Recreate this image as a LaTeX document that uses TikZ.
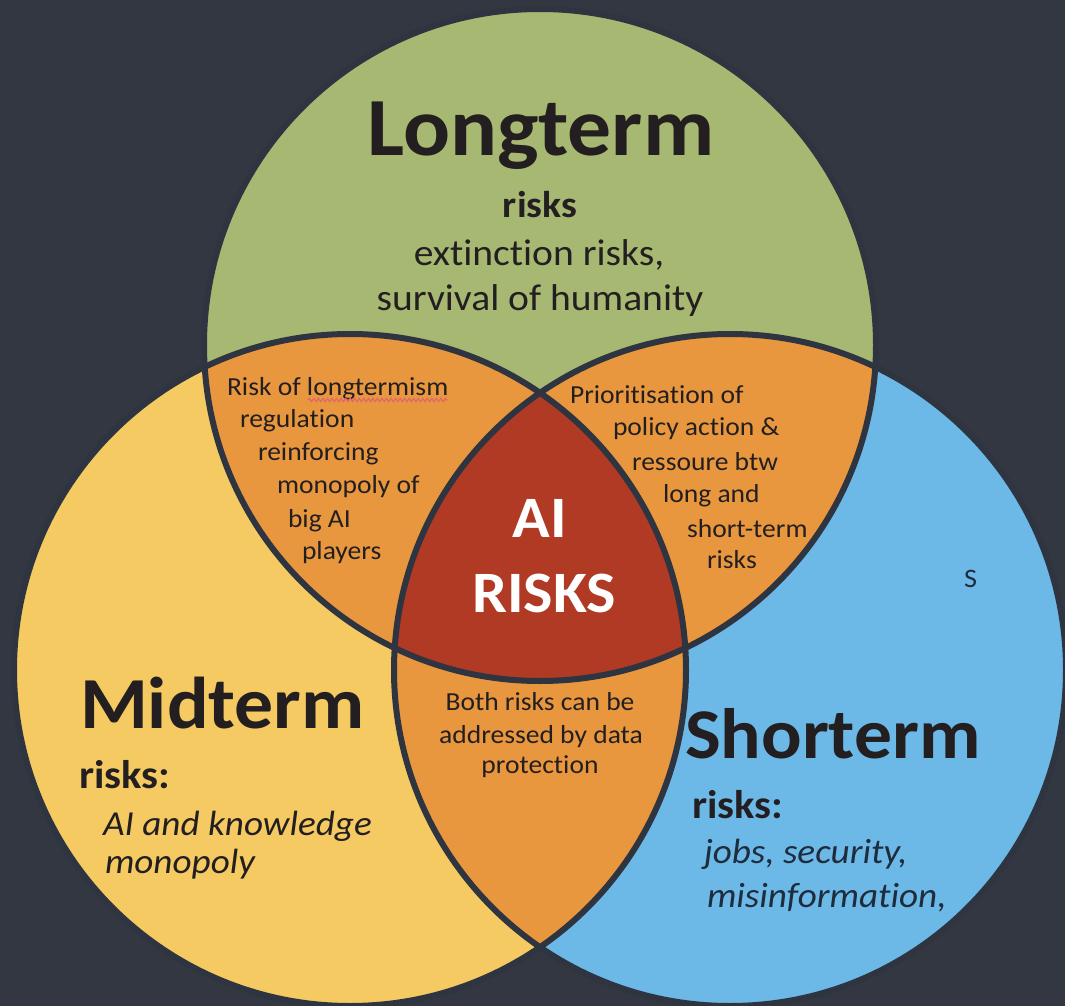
\documentclass[tikz,border=0pt]{standalone}
\usepackage{fontspec}
\setmainfont[FakeStretch=1.06, Ligatures={NoCommon}]{Carlito}
\usetikzlibrary{decorations.pathmorphing}
\definecolor{bg}{HTML}{323741}
\definecolor{lgreen}{HTML}{A7B872}
\definecolor{lyellow}{HTML}{F5CA63}
\definecolor{lblue}{HTML}{6CB9E8}
\definecolor{lorange}{HTML}{E8973E}
\definecolor{lred}{HTML}{B03A24}
\definecolor{rim}{HTML}{2F3540}
\definecolor{ink}{HTML}{231F20}
\definecolor{navy}{HTML}{1E2C3C}
\definecolor{spell}{HTML}{E06A6A}
\begin{document}
\begin{tikzpicture}[x=0.75pt,y=-0.75pt,
  every node/.style={inner sep=0pt, outer sep=0pt},
  bigtitle/.style={text=ink, font=\fontsize{62}{62}\selectfont\bfseries},
  sidetitle/.style={text=ink, font=\fontsize{53.5}{53.5}\selectfont\bfseries},
  subbold/.style={text=ink, font=\fontsize{30}{30}\selectfont\bfseries},
  greentxt/.style={text=ink, font=\fontsize{28}{28}\selectfont},
  itxt/.style={text=ink, font=\fontsize{26.3}{26.3}\selectfont\itshape},
  smalltxt/.style={text=ink, font=\fontsize{19.5}{19.5}\selectfont},
  centertxt/.style={text=white, font=\fontsize{44}{44}\selectfont\bfseries},
  rimline/.style={draw=rim, line width=4.5pt}
]
\useasboundingbox (0,0) rectangle (1065,1006);
\fill[bg] (0,0) rectangle (1065,1006);
\clip (0,0) rectangle (1065,1006);
\def\CG{(540,345) circle[radius=336]}
\def\CY{(350,670) circle[radius=336]}
\def\CB{(730,670) circle[radius=336]}
% base fills
\fill[lgreen] \CG;
\fill[lyellow] \CY;
\fill[lblue] \CB;
% pairwise
\begin{scope}\clip \CG; \fill[lorange] \CY; \end{scope}
\begin{scope}\clip \CG; \fill[lorange] \CB; \end{scope}
\begin{scope}\clip \CY; \fill[lorange] \CB; \end{scope}
% triple
\begin{scope}\clip \CG; \clip \CY; \fill[lred] \CB; \end{scope}
% outlines
\draw[rimline] \CG;
\draw[rimline] \CY;
\draw[rimline] \CB;

% Longterm
\node[bigtitle, anchor=base] (lt) at (541,156) {Longterm};
\node[subbold, font=\fontsize{28}{28}\selectfont\bfseries, anchor=base] (ltr) at (540,217) {risks};
\node[greentxt, anchor=base] (lt1) at (539,265) {extinction risks,};
\node[greentxt, anchor=base] (lt2) at (540,310) {survival of humanity};

% Midterm
\node[sidetitle, font=\fontsize{55}{55}\selectfont\bfseries, anchor=base west] (mt) at (80,728) {Midterm};
\node[subbold, anchor=base west] (mtr) at (79,788) {risks:};
\node[itxt, anchor=base west] (mt1) at (103,835) {AI and knowledge};
\node[itxt, anchor=base west] (mt2) at (105,873) {monopoly};

% Shorterm
\node[sidetitle, anchor=base west] (st) at (685,758) {Shorterm};
\node[subbold, anchor=base west] (str) at (692,818) {risks:};
\node[itxt, text=navy, anchor=base west] (st1) at (704,863) {jobs, security,};
\node[itxt, text=navy, anchor=base west] (st2) at (707,907) {misinformation,};
\node[smalltxt, text=navy, font=\fontsize{20}{20}\selectfont, anchor=base west] (sS) at (964,587) {S};

% center
\node[centertxt, anchor=base] (ai) at (540,537) {AI};
\node[centertxt, anchor=base] (risks) at (544,612) {RISKS};

% upper-left intersection
\node[smalltxt, anchor=base west] (ul1) at (227,395) {Risk of longtermism};
\node[smalltxt, anchor=base west] (ul2) at (240,427) {regulation};
\node[smalltxt, anchor=base west] (ul3) at (258,460) {reinforcing};
\node[smalltxt, anchor=base west] (ul4) at (277,493) {monopoly of};
\node[smalltxt, anchor=base west] (ul5) at (288,527) {big AI};
\node[smalltxt, anchor=base west] (ul6) at (302,559) {players};
\coordinate (w1) at (308,400);
\coordinate (w2) at (447,400);
\draw[spell, line width=1pt, decorate, decoration={snake, amplitude=1.2pt, segment length=3.4pt}] (w1) -- (w2);

% upper-right intersection
\node[smalltxt, anchor=base west] (ur1) at (570,403) {Prioritisation of};
\node[smalltxt, anchor=base west] (ur2) at (613,435) {policy action \&};
\node[smalltxt, anchor=base west] (ur3) at (632,470) {ressoure btw};
\node[smalltxt, anchor=base west] (ur4) at (663,502) {long and};
\node[smalltxt, anchor=base west] (ur5) at (687,537) {short-term};
\node[smalltxt, anchor=base west] (ur6) at (707,568) {risks};

% bottom intersection
\node[smalltxt, anchor=base] (b1) at (540,710) {Both risks can be};
\node[smalltxt, anchor=base] (b2) at (541,743) {addressed by data};
\node[smalltxt, anchor=base] (b3) at (540,773) {protection};
\end{tikzpicture}
\end{document}
